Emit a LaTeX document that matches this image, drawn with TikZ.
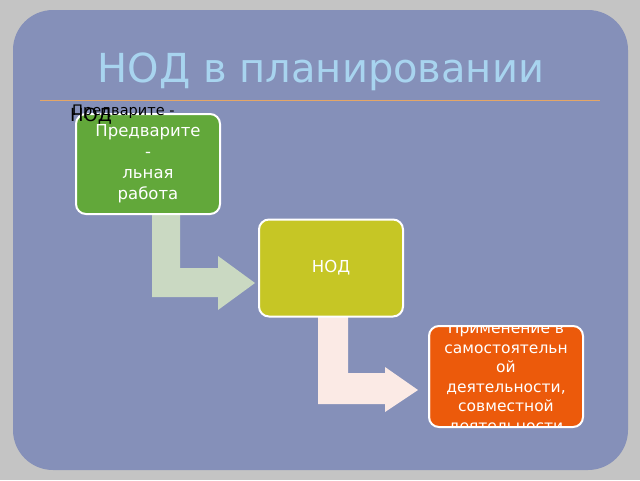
\documentclass[tikz,border=0pt]{standalone}
\usepackage{fontspec}
\setmainfont{DejaVu Sans}
\usetikzlibrary{positioning}
\definecolor{slide}{HTML}{8590B9}
\definecolor{frame}{HTML}{C4C4C4}
\definecolor{titleblue}{HTML}{A8D4EF}
\definecolor{stepgreen}{HTML}{62A83A}
\definecolor{stepolive}{HTML}{C6C625}
\definecolor{steporange}{HTML}{EC5A0B}
\definecolor{bendone}{HTML}{CAD9C2}
\definecolor{bendtwo}{HTML}{FBEAE5}
\tikzset{
  stepbox/.style={draw=white, line width=2pt, rounded corners=10pt, text=white,
    minimum width=144pt, minimum height=100pt, align=center, font=\fontsize{16.5}{21}\selectfont}
}
\begin{document}
\begin{tikzpicture}[x=1pt,y=-1pt]
  \useasboundingbox (0,0) rectangle (640,480);
  \fill[frame] (0,0) rectangle (640,480);
  \fill[slide, rounded corners=40pt] (13,10) rectangle (628,470);

  \node[text=titleblue, font=\fontsize{40}{44}\selectfont] (title) at (321,72) {НОД в планировании};
  \draw[color=brown!60!orange!70, line width=0.6pt] (40,100) -- (600,100);

  % arrows between steps
  \fill[bendone] (152,212) -- (180,212) -- (180,268) -- (218,268) -- (218,256)
    -- (255,283) -- (218,310) -- (218,297) -- (152,297) -- cycle;
  \fill[bendtwo] (318,316) -- (348,316) -- (348,373) -- (385,373) -- (385,367)
    -- (418,390) -- (385,412) -- (385,404) -- (318,404) -- cycle;

  \node[stepbox, fill=stepgreen] (prep) at (148,164) {Предварите\\-\\льная\\работа};
  \node[stepbox, fill=stepolive, minimum height=97pt] (nod) at (331,268) {НОД};
  \begin{scope}
    \clip[rounded corners=10pt] (429,326) rectangle (583,427);
    \node[stepbox, fill=steporange, minimum width=154pt, minimum height=101pt,
      font=\fontsize{15.5}{19.5}\selectfont, inner sep=0pt] (use) at (506,378)
      {Применение в\\самостоятельн\\ой\\деятельности,\\совместной\\деятельности};
  \end{scope}
  \draw[white, line width=2pt, rounded corners=10pt] (429,326) rectangle (583,427);

  \node[anchor=west, inner sep=0pt, font=\fontsize{14.5}{15}\selectfont] (lbla) at (72,112) {Предварите -};
  \node[anchor=west, inner sep=0pt, font=\fontsize{18}{18}\selectfont] (lblb) at (70,116) {НОД};
\end{tikzpicture}
\end{document}
